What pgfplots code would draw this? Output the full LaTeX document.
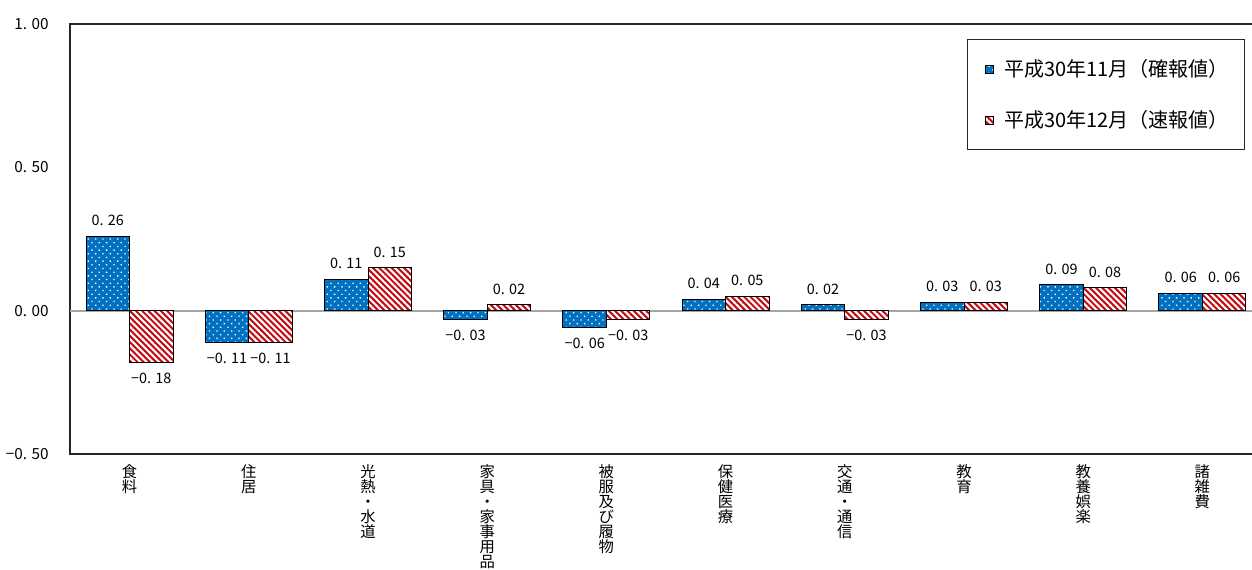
\documentclass[border=0pt]{standalone}
\usepackage{fontspec}
\setmainfont{Noto Sans CJK JP}
\usepackage{pgfplots}
\pgfplotsset{compat=1.18}
\usetikzlibrary{patterns.meta}

\definecolor{xblue}{RGB}{0,112,192}
\definecolor{xred}{RGB}{196,8,16}

% 1px = 0.75pt
\begin{document}
\begin{tikzpicture}
\begin{axis}[
  scale only axis,
  width=894pt, height=322.5pt,
  xmin=-0.5, xmax=9.5,
  ymin=-0.5, ymax=1,
  ybar=0pt, bar width=0.365,
  axis line style={black!85, line width=1pt},
  major tick length=0pt,
  xtick={0,...,9},
  xticklabels={{食\\料},{住\\居},{光\\熱\\・\\水\\道},{家\\具\\・\\家\\事\\用\\品},
    {被\\服\\及\\び\\履\\物},{保\\健\\医\\療},{交\\通\\・\\通\\信},{教\\育},
    {教\\養\\娯\\楽},{諸\\雑\\費}},
  xticklabel style={align=center, anchor=north, inner sep=0pt, yshift=-8pt,
    font=\fontsize{11.5}{11.25}\selectfont},
  ytick={-0.5,0,0.5,1},
  yticklabels={−0. 50,0. 00,0. 50,1. 00},
  yticklabel style={anchor=east, inner sep=0pt, xshift=-15.75pt,
    font=\fontsize{11.5}{13}\selectfont},
  point meta=explicit symbolic,
  visualization depends on={rawy \as \rawy},
  nodes near coords,
  nodes near coords align={anchor=\ifdim\rawy pt<0pt north\else south\fi},
  every node near coord/.append style={font=\fontsize{10.8}{13}\selectfont,
    inner xsep=0pt, inner ysep=7.5pt},
  legend style={at={(0.7525,0.965)}, anchor=north west, draw=black!85, line width=0.8pt,
    font=\fontsize{15}{17}\selectfont, inner xsep=10pt, inner ysep=13pt,
    row sep=20pt, legend cell align=left},
  legend image code/.code={\draw[#1, line width=0.5pt] (3pt,-3pt) rectangle (9pt,3pt);
    \path (0pt,0pt) (15pt,0pt);},
]
\draw[black!35, line width=1.4pt] (axis cs:-0.5,0) -- (axis cs:9.5,0);

\addplot[draw=black, line width=0.7pt, fill=xblue,
  postaction={pattern={Dots[distance=3.9pt, angle=45, radius=0.7pt]}, pattern color=white}]
  coordinates {(0,0.26)[0. 26] (1,-0.11)[−0. 11] (2,0.11)[0. 11] (3,-0.03)[−0. 03]
    (4,-0.06)[−0. 06] (5,0.04)[0. 04] (6,0.02)[0. 02] (7,0.03)[0. 03]
    (8,0.09)[0. 09] (9,0.06)[0. 06]};
\addlegendentry{平成30年11月（確報値）}

\addplot[draw=black, line width=0.7pt, fill=xred,
  postaction={pattern={Lines[angle=-45, distance=3.3pt, line width=1.6pt]}, pattern color=white}]
  coordinates {(0,-0.18)[−0. 18] (1,-0.11)[−0. 11] (2,0.15)[0. 15] (3,0.02)[0. 02]
    (4,-0.03)[−0. 03] (5,0.05)[0. 05] (6,-0.03)[−0. 03] (7,0.03)[0. 03]
    (8,0.08)[0. 08] (9,0.06)[0. 06]};
\addlegendentry{平成30年12月（速報値）}
\end{axis}
\pgfresetboundingbox
\path ([shift={(-52.5pt,-87pt)}]current axis.south west) rectangle
  ([shift={(886.5pt,340.5pt)}]current axis.south west);
\end{tikzpicture}
\end{document}
